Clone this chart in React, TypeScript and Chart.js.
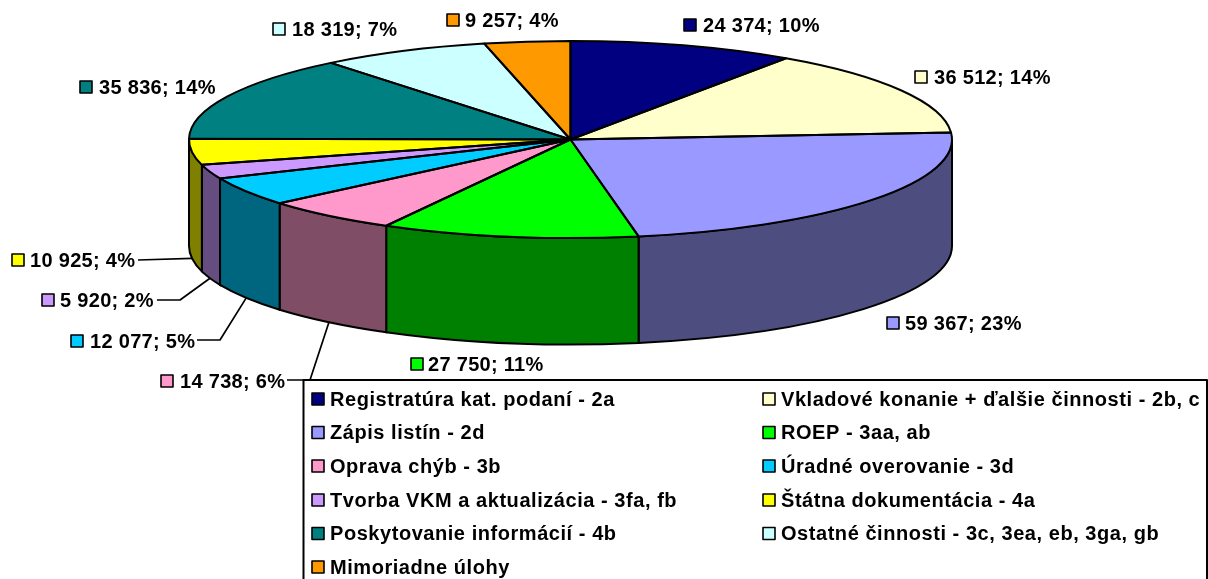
import React, { useEffect, useRef } from "react";
import { Chart, registerables } from "chart.js";

Chart.register(...registerables);

const categories = [
  "Registratúra kat. podaní - 2a",
  "Vkladové konanie + ďalšie činnosti - 2b, c",
  "Zápis listín - 2d",
  "ROEP - 3aa, ab",
  "Oprava chýb - 3b",
  "Úradné overovanie - 3d",
  "Tvorba VKM a aktualizácia - 3fa, fb",
  "Štátna dokumentácia - 4a",
  "Poskytovanie informácií - 4b",
  "Ostatné činnosti - 3c, 3ea, eb, 3ga, gb",
  "Mimoriadne úlohy",
];
const values = [24374, 36512, 59367, 27750, 14738, 12077, 5920, 10925, 35836, 18319, 9257];
const topColors = ["#000080", "#FFFFCC", "#9999FF", "#00FF00", "#FF99CC", "#00CCFF", "#CC99FF", "#FFFF00", "#008080", "#CCFFFF", "#FF9900"];
const wallColors = ["#000040", "#808066", "#4D4D80", "#008000", "#804D66", "#006680", "#664D80", "#808000", "#004040", "#668080", "#804D00"];

// Layout of the drawing (separate from the data)
const W = 1208, H = 579;
const CX = 570.5, CY = 139.5, RX = 381.5, RY = 98.5, DEPTH = 106.5;
const FONT = 'bold 20px "Liberation Sans", Arial, sans-serif';
const labelPos: [number, number][] = [
  [684, 25], [915, 77], [887, 323], [411, 364], [161, 381], [71, 341],
  [42, 300], [12, 260], [80, 87], [273, 29], [447, 20],
];
const labelTextGap = [19, 19, 18, 17, 19, 19, 18, 18, 19, 19, 18];
// leader start / elbow for the labels that have a leader line (by slice index)
const leaders: Record<number, [number, number][]> = {
  4: [[287, 380], [310, 380]],
  5: [[197, 340], [220, 340]],
  6: [[157, 300], [180, 300]],
  7: [[138, 260]],
};
const legendBox = { x: 303.5, y: 380, right: 1207 };
const legendCols = [312, 763];
const legendRows = [399, 432.5, 466, 500, 533.5, 567];

const total = values.reduce((a, b) => a + b, 0);
const fmt = (v: number) => {
  const s = String(v);
  return s.length > 3 ? s.slice(0, -3) + " " + s.slice(-3) : s;
};

function swatch(ctx: CanvasRenderingContext2D, x: number, yc: number, color: string) {
  ctx.fillStyle = color;
  ctx.strokeStyle = "#000";
  ctx.lineWidth = 1.6;
  ctx.fillRect(x, yc - 6, 12, 12);
  ctx.strokeRect(x, yc - 6, 12, 12);
}

const pie3d = {
  id: "pie3d",
  beforeDatasetsDraw(chart: any) {
    const ctx: CanvasRenderingContext2D = chart.ctx;
    const arcs = chart.getDatasetMeta(0).data;
    const { x: ax, y: ay } = arcs[0];
    const bottom = CY + DEPTH;
    ctx.save();
    ctx.lineWidth = 2;
    ctx.strokeStyle = "#000";
    arcs.forEach((arc: any, i: number) => {
      const a0 = Math.max(arc.startAngle, 0);
      const a1 = Math.min(arc.endAngle, Math.PI);
      if (a1 <= a0) return;
      ctx.beginPath();
      ctx.ellipse(CX, CY, RX, RY, 0, a0, a1);
      ctx.ellipse(CX, bottom, RX, RY, 0, a1, a0, true);
      ctx.closePath();
      ctx.fillStyle = wallColors[i];
      ctx.fill();
      ctx.stroke();
    });
    ctx.restore();
    // squash the library's own pie into the top face
    ctx.save();
    ctx.translate(CX, CY);
    ctx.scale(1, RY / RX);
    ctx.translate(-ax, -ay);
  },
  afterDatasetsDraw(chart: any) {
    const ctx: CanvasRenderingContext2D = chart.ctx;
    ctx.restore();
    const arcs = chart.getDatasetMeta(0).data;
    ctx.save();
    ctx.strokeStyle = "#000";
    ctx.lineWidth = 2;
    ctx.lineJoin = "round";
    arcs.forEach((arc: any) => {
      ctx.beginPath();
      ctx.moveTo(CX, CY);
      ctx.ellipse(CX, CY, RX, RY, 0, arc.startAngle, arc.endAngle);
      ctx.closePath();
      ctx.stroke();
    });

    // leader lines, anchored on the bottom rim at each slice's mid angle
    ctx.lineWidth = 1.7;
    Object.keys(leaders).forEach((k) => {
      const i = Number(k);
      const mid = (arcs[i].startAngle + arcs[i].endAngle) / 2;
      const px = CX + RX * Math.cos(mid);
      const py = CY + DEPTH + RY * Math.sin(mid);
      ctx.beginPath();
      leaders[i].forEach(([x, y], n) => (n ? ctx.lineTo(x, y) : ctx.moveTo(x, y)));
      ctx.lineTo(px, py);
      ctx.stroke();
    });

    // data labels
    ctx.font = FONT;
    ctx.textBaseline = "middle";
    ctx.textAlign = "left";
    (ctx as any).letterSpacing = "0.3px";
    values.forEach((v, i) => {
      const [x, y] = labelPos[i];
      swatch(ctx, x, y, topColors[i]);
      ctx.fillStyle = "#000";
      ctx.fillText(`${fmt(v)}; ${Math.round((v / total) * 100)}%`, x + labelTextGap[i], y + 1);
    });

    // legend frame, open at the page's bottom edge
    ctx.strokeStyle = "#000";
    ctx.lineWidth = 2;
    ctx.beginPath();
    ctx.moveTo(legendBox.x, H);
    ctx.lineTo(legendBox.x, legendBox.y);
    ctx.lineTo(legendBox.right, legendBox.y);
    ctx.lineTo(legendBox.right, H);
    ctx.stroke();

    // legend entries
    (ctx as any).letterSpacing = "0.55px";
    categories.forEach((c, i) => {
      const x = legendCols[i % 2];
      const y = legendRows[Math.floor(i / 2)];
      swatch(ctx, x, y, topColors[i]);
      ctx.fillStyle = "#000";
      ctx.fillText(c, x + 18, y + 1);
    });
    ctx.restore();
  },
};

export default function App() {
  const ref = useRef<HTMLCanvasElement>(null);
  useEffect(() => {
    document.body.style.margin = "0";
    const chart = new Chart(ref.current!, {
      type: "pie",
      data: {
        labels: categories,
        datasets: [
          {
            data: values,
            backgroundColor: topColors,
            borderWidth: 0,
            radius: RX,
            clip: false,
          } as any,
        ],
      },
      options: {
        responsive: false,
        animation: false,
        layout: { padding: { left: 0, top: 0, right: W - 2 * CX, bottom: H - 2 * CY } },
        plugins: { legend: { display: false }, tooltip: { enabled: false } },
      },
      plugins: [pie3d],
    });
    return () => chart.destroy();
  }, []);
  return (
    <div style={{ position: "absolute", left: 0, top: 0, width: W, height: H }}>
      <canvas ref={ref} width={W} height={H} style={{ display: "block" }} />
    </div>
  );
}
